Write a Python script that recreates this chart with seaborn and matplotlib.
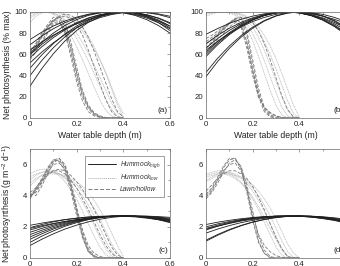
import matplotlib
matplotlib.use("Agg")
import matplotlib.pyplot as plt
import pandas as pd
import seaborn as sns
from matplotlib.lines import Line2D
from matplotlib.ticker import MultipleLocator

# ---------------- data ----------------
depth_high = [0.0, 0.05, 0.10, 0.15, 0.20, 0.25, 0.30, 0.35, 0.40, 0.45, 0.50, 0.55, 0.60]
depth_wet = [0.0, 0.025, 0.05, 0.075, 0.10, 0.125, 0.15, 0.175, 0.20, 0.225,
             0.25, 0.275, 0.30, 0.325, 0.35, 0.375, 0.40]

groups = ["Hummock_high", "Hummock_low", "Lawn/hollow"]

a_high = [
    [30.0, 46.4, 60.6, 72.7, 82.5, 90.2, 95.6, 98.9, 100, 98.9, 95.6, 90.2, 82.5],
    [40.0, 54.1, 66.3, 76.6, 85.0, 91.6, 96.3, 99.1, 100, 99.1, 96.3, 91.6, 85.0],
    [47.0, 59.4, 70.2, 79.3, 86.8, 92.5, 96.7, 99.2, 100, 99.2, 96.7, 92.5, 86.8],
    [52.0, 62.1, 70.9, 78.7, 85.2, 90.5, 94.7, 97.6, 99.4, 100, 99.4, 97.6, 94.7],
    [57.0, 67.1, 75.8, 83.2, 89.2, 94.0, 97.3, 99.3, 100, 99.3, 97.3, 94.0, 89.2],
    [60.0, 69.4, 77.5, 84.4, 90.0, 94.4, 97.5, 99.4, 100, 99.4, 97.5, 94.4, 90.0],
    [61.0, 71.3, 80.1, 87.3, 92.8, 96.8, 99.2, 100, 99.2, 96.8, 92.8, 87.3, 80.1],
    [64.0, 71.6, 78.2, 84.0, 88.9, 92.9, 96.0, 98.2, 99.6, 100, 99.6, 98.2, 96.0],
    [69.0, 77.2, 84.2, 89.9, 94.3, 97.5, 99.4, 100, 99.4, 97.5, 94.3, 89.9, 84.2],
    [74.0, 80.9, 86.7, 91.5, 95.2, 97.9, 99.5, 100, 99.5, 97.9, 95.2, 91.5, 86.7],
]
a_lawn = [
    [58, 66, 76, 86, 93, 92, 82, 62, 38, 20, 9, 3, 1, 0, 0, 0, 0],
    [62, 70, 80, 88, 95, 95, 86, 66, 42, 22, 10, 4, 1, 0, 0, 0, 0],
    [55, 62, 72, 82, 90, 91, 80, 58, 34, 16, 6, 2, 0.5, 0, 0, 0, 0],
    [65, 68, 76, 85, 92, 96, 90, 72, 48, 26, 12, 5, 2, 0.5, 0, 0, 0],
    [60, 64, 70, 80, 88, 90, 84, 68, 44, 24, 11, 4, 1, 0, 0, 0, 0],
    [60, 68, 77, 85, 91, 95, 96, 94, 88, 78, 64, 48, 32, 17, 6, 1, 0],
    [62, 70, 78, 86, 92, 96, 98, 97, 93, 86, 76, 63, 48, 33, 18, 6, 1],
]
a_low = [
    [90, 96, 99, 100, 98, 94, 87, 78, 67, 55, 42, 29, 17, 7, 2, 0, 0],
    [94, 98, 100, 100, 99, 96, 91, 84, 75, 65, 54, 42, 30, 18, 8, 2, 0],
    [96, 99, 100, 100, 99, 97, 93, 87, 80, 71, 61, 50, 38, 26, 14, 5, 1],
    [98, 100, 100, 100, 100, 99, 97, 93, 88, 82, 74, 65, 55, 43, 29, 15, 4],
    [99, 100, 100, 100, 100, 100, 98, 95, 91, 85, 77, 67, 55, 42, 27, 12, 1],
]

b_high = [
    [39.0, 53.3, 65.7, 76.2, 84.7, 91.4, 96.2, 99.0, 100, 99.0, 96.2, 91.4, 84.7],
    [43.0, 56.4, 67.9, 77.7, 85.7, 92.0, 96.4, 99.1, 100, 99.1, 96.4, 92.0, 85.7],
    [58.0, 69.1, 78.6, 86.3, 92.3, 96.6, 99.1, 100, 99.1, 96.6, 92.3, 86.3, 78.6],
    [60.0, 70.6, 79.6, 86.9, 92.7, 96.7, 99.2, 100, 99.2, 96.7, 92.7, 86.9, 79.6],
    [62.0, 72.1, 80.6, 87.6, 93.0, 96.9, 99.2, 100, 99.2, 96.9, 93.0, 87.6, 80.6],
    [64.0, 72.4, 79.8, 85.9, 91.0, 94.9, 97.8, 99.4, 100, 99.4, 97.8, 94.9, 91.0],
    [66.0, 75.0, 82.7, 88.9, 93.8, 97.2, 99.3, 100, 99.3, 97.2, 93.8, 88.9, 82.7],
    [70.0, 78.0, 84.7, 90.2, 94.5, 97.6, 99.4, 100, 99.4, 97.6, 94.5, 90.2, 84.7],
    [79.0, 84.4, 89.3, 93.1, 96.1, 98.3, 99.6, 100, 99.6, 98.3, 96.1, 93.1, 89.3],
]
b_lawn = [
    [70, 74, 79, 84, 89, 93, 90, 72, 45, 20, 6, 1, 0, 0, 0, 0, 0],
    [66, 71, 77, 83, 89, 94, 93, 78, 50, 24, 8, 2, 0, 0, 0, 0, 0],
    [75, 78, 82, 86, 90, 94, 95, 82, 55, 28, 10, 3, 1, 0, 0, 0, 0],
    [62, 68, 74, 80, 86, 90, 88, 70, 44, 22, 10, 5, 2, 0.5, 0, 0, 0],
    [72, 76, 80, 85, 90, 92, 86, 66, 40, 20, 10, 5, 2, 0.5, 0, 0, 0],
    [66, 72, 78, 84, 89, 93, 95, 94, 90, 82, 70, 55, 38, 21, 8, 1, 0],
]
b_low = [
    [98, 99, 100, 100, 99, 97, 93, 85, 73, 58, 42, 26, 12, 3, 0, 0, 0],
    [99, 100, 100, 100, 100, 98, 95, 89, 80, 68, 54, 39, 24, 10, 2, 0, 0],
    [100, 100, 100, 100, 100, 99, 97, 93, 86, 76, 64, 50, 35, 20, 7, 1, 0],
    [100, 100, 100, 100, 100, 100, 98, 95, 90, 82, 72, 60, 46, 31, 16, 4, 0],
    [96, 98, 100, 100, 100, 99, 98, 96, 92, 86, 78, 68, 56, 42, 27, 12, 1],
]

c_high = [
    [2.10, 2.24, 2.36, 2.47, 2.55, 2.62, 2.66, 2.69, 2.70, 2.69, 2.66, 2.62, 2.55],
    [1.95, 2.15, 2.32, 2.46, 2.56, 2.64, 2.68, 2.70, 2.68, 2.64, 2.56, 2.46, 2.32],
    [1.80, 2.01, 2.19, 2.35, 2.47, 2.57, 2.64, 2.69, 2.70, 2.69, 2.64, 2.57, 2.47],
    [1.65, 1.90, 2.11, 2.29, 2.44, 2.55, 2.63, 2.68, 2.70, 2.68, 2.63, 2.55, 2.44],
    [1.50, 1.78, 2.03, 2.23, 2.40, 2.53, 2.63, 2.68, 2.70, 2.68, 2.63, 2.53, 2.40],
    [1.35, 1.67, 1.94, 2.17, 2.36, 2.51, 2.62, 2.68, 2.70, 2.68, 2.62, 2.51, 2.36],
    [1.20, 1.55, 1.86, 2.11, 2.33, 2.49, 2.61, 2.68, 2.70, 2.68, 2.61, 2.49, 2.33],
    [1.00, 1.40, 1.74, 2.04, 2.27, 2.46, 2.59, 2.67, 2.70, 2.67, 2.59, 2.46, 2.27],
    [0.80, 1.20, 1.55, 1.86, 2.11, 2.32, 2.49, 2.61, 2.68, 2.70, 2.68, 2.61, 2.49],
    [1.90, 2.07, 2.22, 2.34, 2.45, 2.54, 2.61, 2.66, 2.69, 2.70, 2.69, 2.66, 2.61],
]
c_lawn = [
    [3.9, 4.3, 4.9, 5.6, 6.2, 6.3, 5.8, 4.6, 3.0, 1.5, 0.5, 0.1, 0, 0, 0, 0, 0],
    [4.1, 4.0, 4.6, 5.4, 6.1, 6.4, 6.0, 4.9, 3.3, 1.7, 0.6, 0.15, 0, 0, 0, 0, 0],
    [3.8, 4.4, 5.1, 5.7, 6.3, 6.2, 5.6, 4.3, 2.7, 1.3, 0.4, 0.1, 0, 0, 0, 0, 0],
    [4.0, 4.2, 4.8, 5.5, 6.0, 6.1, 5.7, 4.6, 3.1, 1.8, 0.8, 0.3, 0.1, 0, 0, 0, 0],
    [3.9, 4.5, 5.0, 5.8, 6.3, 6.4, 5.9, 4.7, 3.0, 1.4, 0.4, 0.05, 0, 0, 0, 0, 0],
    [4.0, 4.4, 4.9, 5.3, 5.6, 5.6, 5.4, 5.0, 4.5, 3.8, 3.1, 2.3, 1.5, 0.8, 0.3, 0, 0],
    [4.2, 4.5, 5.0, 5.4, 5.6, 5.7, 5.6, 5.3, 4.9, 4.4, 3.8, 3.1, 2.3, 1.5, 0.7, 0.2, 0],
]
c_low = [
    [5.0, 5.3, 5.5, 5.6, 5.5, 5.3, 4.9, 4.4, 3.8, 3.0, 2.2, 1.4, 0.7, 0.2, 0, 0, 0],
    [5.4, 5.6, 5.7, 5.7, 5.6, 5.4, 5.1, 4.7, 4.2, 3.6, 2.9, 2.1, 1.3, 0.6, 0.1, 0, 0],
    [4.6, 5.0, 5.3, 5.5, 5.5, 5.4, 5.2, 4.9, 4.5, 4.0, 3.4, 2.7, 1.9, 1.1, 0.4, 0.05, 0],
    [5.2, 5.4, 5.5, 5.5, 5.5, 5.4, 5.2, 5.0, 4.7, 4.3, 3.8, 3.2, 2.5, 1.7, 0.9, 0.3, 0],
    [4.8, 5.1, 5.3, 5.4, 5.4, 5.4, 5.3, 5.1, 4.9, 4.6, 4.2, 3.7, 3.1, 2.4, 1.6, 0.8, 0.1],
]

d_high = [
    [2.15, 2.30, 2.42, 2.52, 2.60, 2.66, 2.69, 2.70, 2.69, 2.66, 2.60, 2.52, 2.42],
    [2.00, 2.19, 2.34, 2.47, 2.57, 2.64, 2.69, 2.70, 2.69, 2.64, 2.57, 2.47, 2.34],
    [1.90, 2.11, 2.29, 2.44, 2.55, 2.63, 2.68, 2.70, 2.68, 2.63, 2.55, 2.44, 2.29],
    [1.85, 2.05, 2.22, 2.37, 2.49, 2.58, 2.65, 2.69, 2.70, 2.69, 2.65, 2.58, 2.49],
    [1.80, 2.04, 2.24, 2.41, 2.53, 2.63, 2.68, 2.70, 2.68, 2.63, 2.53, 2.41, 2.24],
    [1.60, 1.86, 2.08, 2.27, 2.42, 2.55, 2.63, 2.68, 2.70, 2.68, 2.63, 2.55, 2.42],
    [1.15, 1.51, 1.83, 2.09, 2.31, 2.48, 2.60, 2.68, 2.70, 2.68, 2.60, 2.48, 2.31],
    [1.08, 1.46, 1.79, 2.07, 2.30, 2.47, 2.60, 2.67, 2.70, 2.67, 2.60, 2.47, 2.30],
]
d_lawn = [
    [3.9, 4.3, 5.0, 5.8, 6.3, 6.4, 5.8, 4.4, 2.6, 1.1, 0.3, 0, 0, 0, 0, 0, 0],
    [4.1, 4.5, 5.2, 5.9, 6.4, 6.4, 5.7, 4.2, 2.4, 1.0, 0.3, 0.05, 0, 0, 0, 0, 0],
    [3.8, 4.2, 4.8, 5.5, 6.1, 6.3, 5.9, 4.7, 3.0, 1.4, 0.5, 0.1, 0, 0, 0, 0, 0],
    [4.0, 4.4, 5.0, 5.6, 6.0, 6.1, 5.6, 4.4, 2.8, 1.5, 0.8, 0.4, 0.15, 0.05, 0, 0, 0],
    [4.3, 4.7, 5.1, 5.4, 5.6, 5.6, 5.4, 5.1, 4.6, 3.9, 3.1, 2.2, 1.3, 0.6, 0.1, 0, 0],
]
d_low = [
    [5.3, 5.4, 5.5, 5.5, 5.4, 5.2, 4.9, 4.4, 3.8, 3.1, 2.3, 1.5, 0.7, 0.2, 0, 0, 0],
    [5.0, 5.2, 5.4, 5.5, 5.5, 5.3, 5.1, 4.8, 4.3, 3.7, 3.0, 2.2, 1.4, 0.6, 0.1, 0, 0],
    [5.4, 5.5, 5.6, 5.6, 5.5, 5.4, 5.2, 4.9, 4.5, 4.0, 3.4, 2.7, 1.9, 1.1, 0.4, 0.05, 0],
    [4.9, 5.1, 5.3, 5.4, 5.4, 5.3, 5.2, 5.0, 4.7, 4.3, 3.8, 3.2, 2.5, 1.7, 0.9, 0.3, 0],
    [5.2, 5.3, 5.4, 5.4, 5.3, 5.1, 4.8, 4.4, 3.9, 3.3, 2.6, 1.9, 1.2, 0.5, 0.1, 0, 0],
]

panel_labels = ["(a)", "(b)", "(c)", "(d)"]
ylabel_top = "Net photosynthesis (% max)"
ylabel_bottom = "Net photosynthesis (g m$^{-2}$ d$^{-1}$)"
xlabel = "Water table depth (m)"
legend_labels = ["Hummock$_{high}$", "Hummock$_{low}$", "Lawn/hollow"]

# ---------------- build long table ----------------
rows = []
panel_data = {
    "a": (a_high, a_low, a_lawn),
    "b": (b_high, b_low, b_lawn),
    "c": (c_high, c_low, c_lawn),
    "d": (d_high, d_low, d_lawn),
}
for p, (hi, lo, lw) in panel_data.items():
    for g, curves, dep in ((groups[0], hi, depth_high),
                           (groups[1], lo, depth_wet),
                           (groups[2], lw, depth_wet)):
        for i, c in enumerate(curves):
            for x, v in zip(dep, c):
                rows.append({"panel": p, "group": g, "curve": f"{g}-{i}",
                             "depth": x, "value": v})
df = pd.DataFrame(rows)

# ---------------- style ----------------
sns.set_theme(style="white")
plt.rcParams["font.family"] = ["Liberation Sans", "DejaVu Sans"]
plt.rcParams["mathtext.fontset"] = "custom"
plt.rcParams["mathtext.rm"] = "Liberation Sans"
plt.rcParams["mathtext.it"] = "Liberation Sans:italic"
plt.rcParams["mathtext.bf"] = "Liberation Sans:bold"

palette = {"Hummock_high": "#1e1e1e", "Hummock_low": "#b8b8b8", "Lawn/hollow": "#7a7a7a"}
dashes = {"Hummock_high": "", "Hummock_low": (1.2, 0.8), "Lawn/hollow": (4, 2)}
hue_order = ["Hummock_low", "Lawn/hollow", "Hummock_high"]

fig = plt.figure(figsize=(3.4, 2.66), dpi=100)
W = 140 / 340
pos = {
    "a": [30 / 340, 148 / 266, W, 106 / 266],
    "b": [206 / 340, 148 / 266, W, 106 / 266],
    "c": [30 / 340, 8 / 266, W, 109 / 266],
    "d": [206 / 340, 8 / 266, W, 109 / 266],
}

for k, p in enumerate(["a", "b", "c", "d"]):
    ax = fig.add_axes(pos[p])
    sub = df[df["panel"] == p]
    sns.lineplot(data=sub, x="depth", y="value", hue="group", style="group",
                 units="curve", estimator=None, hue_order=hue_order,
                 style_order=hue_order, palette=palette, dashes=dashes,
                 linewidth=0.6, legend=False, sort=False, ax=ax)
    ax.set_xlim(0, 0.6)
    ax.xaxis.set_major_locator(MultipleLocator(0.2))
    ax.xaxis.set_minor_locator(MultipleLocator(0.1))
    ax.xaxis.set_major_formatter(plt.FuncFormatter(lambda v, _: "0" if abs(v) < 1e-9 else f"{v:.1f}"))
    if p in ("a", "b"):
        ax.set_ylim(0, 100)
        ax.yaxis.set_major_locator(MultipleLocator(20))
        ax.yaxis.set_minor_locator(MultipleLocator(10))
        ax.set_xlabel(xlabel, fontsize=6.2, color="#222222")
        ax.xaxis.set_label_coords(0.5, -0.125)
    else:
        ax.set_ylim(0, 7)
        ax.yaxis.set_major_locator(MultipleLocator(2))
        ax.yaxis.set_minor_locator(MultipleLocator(1))
        ax.set_xlabel("")
    if p == "a":
        ax.set_ylabel(ylabel_top, fontsize=6.2, color="#222222")
        ax.yaxis.set_label_coords(-0.125, 0.5)
    elif p == "c":
        ax.set_ylabel(ylabel_bottom, fontsize=6.2, color="#222222")
        ax.yaxis.set_label_coords(-0.115, 0.5)
    else:
        ax.set_ylabel("")
    ax.tick_params(which="both", direction="in", top=True, right=True,
                   width=0.4, colors="#555555", labelcolor="#222222",
                   labelsize=5.6, pad=2)
    ax.tick_params(which="major", length=2.2)
    ax.tick_params(which="minor", length=1.3)
    for s in ax.spines.values():
        s.set_linewidth(0.5)
        s.set_color("#666666")
    ax.text(0.985, 0.04, panel_labels[k], transform=ax.transAxes,
            ha="right", va="bottom", fontsize=6, color="#222222")
    if p == "c":
        handles = [Line2D([], [], color=palette[g], lw=0.7,
                          dashes=dashes[g] if dashes[g] else (None, None))
                   for g in groups]
        handles[0].set_linestyle("-")
        leg = ax.legend(handles, legend_labels, loc="upper right",
                        bbox_to_anchor=(0.955, 0.935), frameon=True,
                        fancybox=False, prop={"style": "italic", "size": 4.8},
                        handlelength=4.2, handletextpad=0.6, labelspacing=0.45,
                        borderpad=0.5, borderaxespad=0)
        leg.get_frame().set_edgecolor("#555555")
        leg.get_frame().set_linewidth(0.5)
        for t in leg.get_texts():
            t.set_color("#333333")

fig.savefig("out.png", dpi=100)
